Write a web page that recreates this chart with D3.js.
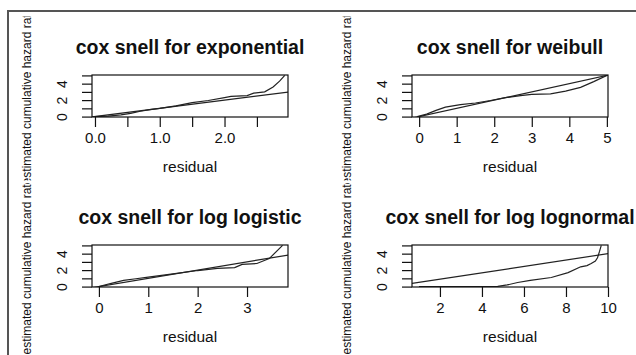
<!DOCTYPE html>
<html>
<head>
<meta charset="utf-8">
<script src="https://cdn.jsdelivr.net/npm/d3@7"></script>
<style>
  body { margin: 0; background: #fff; }
  svg { display: block; font-family: "Liberation Sans", Arial, sans-serif; }
</style>
</head>
<body>
<div class="chart-wrapper"></div>
<script>
// ---- data ----
const titles = ['cox snell for exponential', 'cox snell for weibull', 'cox snell for log logistic', 'cox snell for log lognormal'];
const xLabel = 'residual';
const yLabel = 'estimated cumulative hazard rate';

const xDomains = [[-0.046, 2.98], [-0.19, 5.03], [-0.14, 3.83], [0.67, 10.0]];
const yDomain = [-0.05, 5.05];

const xTicks = [[0, 0.5, 1, 1.5, 2, 2.5], [0, 1, 2, 3, 4, 5], [0, 1, 2, 3], [2, 4, 6, 8, 10]];
const xTickLabels = [['0.0', '', '1.0', '', '2.0', ''], ['0', '1', '2', '3', '4', '5'], ['0', '1', '2', '3'], ['2', '4', '6', '8', '10']];
const yTicks = [0, 1, 2, 3, 4, 5];
const yTickLabels = ['0', '', '2', '', '4', ''];

// cumulative hazard curves
const expX = [0.0, 0.2, 0.4, 0.55, 0.7, 0.85, 1.0, 1.25, 1.5, 1.75, 2.0, 2.1, 2.35, 2.45, 2.62, 2.75, 2.85, 2.93];
const expY = [0.0, 0.05, 0.2, 0.4, 0.65, 0.85, 1.0, 1.3, 1.7, 1.95, 2.3, 2.45, 2.55, 2.85, 3.0, 3.6, 4.3, 5.0];

const weibX = [-0.05, 0.2, 0.45, 0.7, 1.1, 1.5, 1.9, 2.3, 2.7, 3.0, 3.5, 3.9, 4.3, 4.65, 5.0];
const weibY = [0.0, 0.3, 0.75, 1.15, 1.45, 1.65, 1.95, 2.3, 2.55, 2.7, 2.75, 3.1, 3.55, 4.25, 5.0];

const loglX = [0.0, 0.25, 0.5, 0.75, 1.0, 1.5, 2.0, 2.4, 2.75, 2.9, 3.2, 3.45, 3.72];
const loglY = [0.0, 0.4, 0.75, 0.95, 1.15, 1.55, 1.95, 2.2, 2.3, 2.7, 2.8, 3.4, 5.0];

const lognX = [1.0, 3.0, 4.75, 5.2, 5.7, 6.3, 7.3, 8.1, 8.7, 9.0, 9.2, 9.4, 9.5, 9.6, 9.68];
const lognY = [0.0, 0.0, 0.02, 0.2, 0.5, 0.75, 1.1, 1.7, 2.4, 2.55, 2.8, 3.1, 3.5, 4.3, 5.0];

// reference lines
const expRefX = [-0.2, 3.2], expRefY = [-0.2, 3.2];
const weibRefX = [-0.2, 5.1], weibRefY = [-0.2, 5.1];
const loglRefX = [-0.2, 3.9], loglRefY = [-0.2, 3.9];
const lognRefX = [0.67, 10.0], lognRefY = [0.38, 4.0];

const curves = [[expX, expY], [weibX, weibY], [loglX, loglY], [lognX, lognY]];
const refs = [[expRefX, expRefY], [weibRefX, weibRefY], [loglRefX, loglRefY], [lognRefX, lognRefY]];

// ---- layout ----
const width = 636, height = 355;
const boxLeft = [92, 412], boxTop = [75, 245];
const boxW = 196, boxH = 42;
const figClip = [[16.5, 180.5], [183, 355]];
const ink = '#111';

const svg = d3.select('.chart-wrapper').append('svg')
  .attr('width', width)
  .attr('height', height);

svg.append('rect').attr('width', width).attr('height', height).attr('fill', '#fff');

// outer frame (top and left edges)
svg.append('path')
  .attr('d', `M8,${height} V11 H${width}`)
  .attr('fill', 'none')
  .attr('stroke', '#555')
  .attr('stroke-width', 2);

const defs = svg.append('defs');

titles.forEach((title, i) => {

  const col = i % 2, row = Math.floor(i / 2);
  const bx = boxLeft[col], by = boxTop[row];

  const xScale = d3.scaleLinear().domain(xDomains[i]).range([bx, bx + boxW]);
  const yScale = d3.scaleLinear().domain(yDomain).range([by + boxH, by]);

  defs.append('clipPath').attr('id', 'box' + i)
    .append('rect').attr('x', bx).attr('y', by).attr('width', boxW).attr('height', boxH);

  defs.append('clipPath').attr('id', 'fig' + i)
    .append('rect').attr('x', 0).attr('y', figClip[row][0]).attr('width', width).attr('height', figClip[row][1] - figClip[row][0]);

  const g = svg.append('g');

  const line = d3.line()
    .x(d => xScale(d[0]))
    .y(d => yScale(d[1]));

  const plot = g.append('g').attr('clip-path', `url(#box${i})`);

  plot.append('path')
    .datum(d3.zip(refs[i][0], refs[i][1]))
    .attr('d', line)
    .attr('fill', 'none')
    .attr('stroke', '#222')
    .attr('stroke-width', 1.2);

  plot.append('path')
    .datum(d3.zip(curves[i][0], curves[i][1]))
    .attr('d', line)
    .attr('fill', 'none')
    .attr('stroke', '#222')
    .attr('stroke-width', 1.2);

  g.append('rect')
    .attr('x', bx).attr('y', by)
    .attr('width', boxW).attr('height', boxH)
    .attr('fill', 'none')
    .attr('stroke', ink)
    .attr('stroke-width', 1.2);

  const xAxis = g.append('g')
    .attr('transform', `translate(0,${by + boxH})`)
    .call(d3.axisBottom(xScale)
      .tickValues(xTicks[i])
      .tickSize(10)
      .tickPadding(5)
      .tickFormat((d, j) => xTickLabels[i][j]));

  xAxis.selectAll('.tick line').attr('stroke', ink).attr('stroke-width', 1.2);
  xAxis.selectAll('.tick text')
    .attr('fill', ink)
    .attr('font-size', 15)
    .attr('font-family', '"Liberation Sans", Arial, sans-serif');

  const yAxis = g.append('g')
    .attr('transform', `translate(${bx},0)`)
    .call(d3.axisLeft(yScale)
      .tickValues(yTicks)
      .tickSize(10)
      .tickFormat((d, j) => yTickLabels[j]));

  yAxis.selectAll('.tick line').attr('stroke', ink).attr('stroke-width', 1.2);
  yAxis.selectAll('.tick text')
    .attr('x', 0)
    .attr('dy', 0)
    .attr('transform', 'translate(-25,0) rotate(-90)')
    .attr('text-anchor', 'middle')
    .attr('fill', ink)
    .attr('font-size', 14)
    .attr('font-family', '"Liberation Sans", Arial, sans-serif');

  svg.selectAll('.domain').remove();

  g.append('text')
    .attr('x', bx + boxW / 2)
    .attr('y', by - 21)
    .attr('text-anchor', 'middle')
    .attr('font-size', 19.5)
    .attr('font-weight', 'bold')
    .attr('fill', ink)
    .text(title);

  g.append('text')
    .attr('x', bx + boxW / 2)
    .attr('y', by + boxH + 54.5)
    .attr('text-anchor', 'middle')
    .attr('font-size', 15.5)
    .attr('fill', ink)
    .text(xLabel);

  g.append('g')
    .attr('clip-path', `url(#fig${i})`)
    .append('text')
    .attr('transform', `translate(${bx - 61},${by + boxH / 2}) rotate(-90)`)
    .attr('text-anchor', 'middle')
    .attr('font-size', 12)
    .attr('fill', ink)
    .text(yLabel);
});
</script>
</body>
</html>
